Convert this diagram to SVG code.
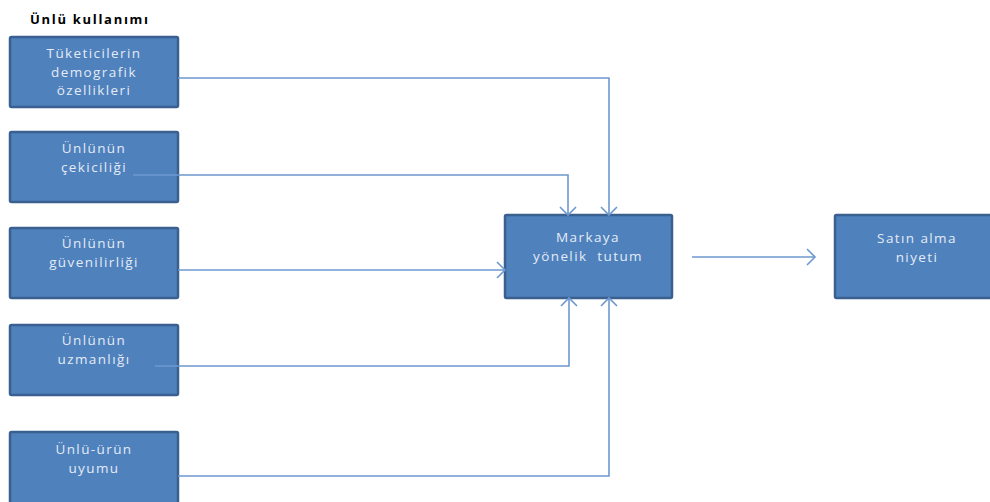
<svg xmlns="http://www.w3.org/2000/svg" width="990" height="502" viewBox="0 0 990 502">
<defs>
<style>
.box{fill:#4F81BD;stroke:#3A6090;stroke-width:2.5}
.lbl{font-family:"Open Sans","Liberation Sans",sans-serif;font-size:13.5px;fill:#E4EBF5;text-anchor:middle;letter-spacing:1.4px;white-space:pre}
.title{font-family:"Open Sans","Liberation Sans",sans-serif;font-size:13px;font-weight:bold;fill:#000;letter-spacing:1.7px}
.con{fill:none;stroke:#6D98CF;stroke-width:1.6;marker-end:url(#arr)}
</style>
<marker id="arr" markerUnits="userSpaceOnUse" markerWidth="20" markerHeight="20" refX="9" refY="9" orient="auto" viewBox="0 0 20 20">
<path d="M1,1 L9,9 L1,17" fill="none" stroke="#6D98CF" stroke-width="1.6"/>
</marker>
</defs>
<rect width="990" height="502" fill="#fff"/>
<text class="title" x="30" y="24">Ünlü kullanımı</text>
<g id="n1"><rect class="box" x="10" y="37" width="168" height="70" rx="1.5"/>
<text class="lbl" x="94" y="58">Tüketicilerin</text><text class="lbl" x="94" y="77">demografik</text><text class="lbl" x="94" y="95">özellikleri</text></g>
<g id="n2"><rect class="box" x="10" y="132" width="168" height="70" rx="1.5"/>
<text class="lbl" x="94" y="153">Ünlünün</text><text class="lbl" x="94" y="172">çekiciliği</text></g>
<g id="n3"><rect class="box" x="10" y="228" width="168" height="70" rx="1.5"/>
<text class="lbl" x="94" y="248">Ünlünün</text><text class="lbl" x="94" y="267">güvenilirliği</text></g>
<g id="n4"><rect class="box" x="10" y="325" width="168" height="70" rx="1.5"/>
<text class="lbl" x="94" y="345">Ünlünün</text><text class="lbl" x="94" y="364">uzmanlığı</text></g>
<g id="n5"><rect class="box" x="10" y="432" width="168" height="80" rx="1.5"/>
<text class="lbl" x="94" y="454">Ünlü-ürün</text><text class="lbl" x="94" y="473">uyumu</text></g>
<g id="n6"><rect class="box" x="505" y="215" width="167" height="83" rx="1.5"/>
<text class="lbl" x="588" y="242">Markaya</text><text class="lbl" x="588" y="261">yönelik  tutum</text></g>
<g id="n7"><rect class="box" x="835" y="215" width="170" height="83" rx="1.5"/>
<text class="lbl" x="917" y="243">Satın alma</text><text class="lbl" x="917" y="262">niyeti</text></g>
<g id="connectors">
<path class="con" d="M178,78 H609 V215"/>
<path class="con" d="M133,175 H568 V215"/>
<path class="con" d="M178,270 H505"/>
<path class="con" d="M155,366 H569 V298"/>
<path class="con" d="M178,476 H609 V298"/>
<path class="con" d="M692,257 H815"/>
</g>
</svg>
